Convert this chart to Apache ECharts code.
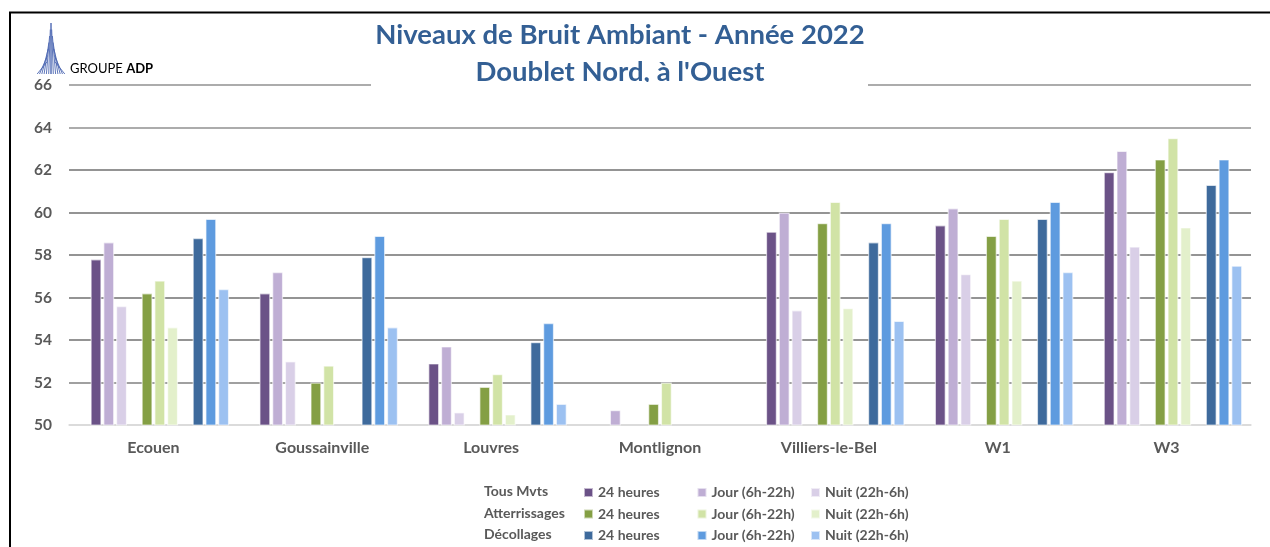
<!DOCTYPE html>
<html>
    <head>
        <meta charset="utf-8">
        <title>Niveaux de Bruit Ambiant</title>
        <script src="https://cdn.jsdelivr.net/npm/echarts@6/dist/echarts.min.js"></script>
        <style>
            html, body { margin: 0; padding: 0; background: #fff; }
        </style>
    </head>
    <body>
        <div id="main" style="width:1270px;height:547px;"></div>

        <script type="text/javascript">
            // donnees
            var sites = ['Ecouen', 'Goussainville', 'Louvres', 'Montlignon', 'Villiers-le-Bel', 'W1', 'W3'];
            var yTicks = [50, 52, 54, 56, 58, 60, 62, 64, 66];

            var tousJour24 = [57.8, 56.2, 52.9, '-', 59.1, 59.4, 61.9];
            var tousJour = [58.6, 57.2, 53.7, 50.7, 60.0, 60.2, 62.9];
            var tousNuit = [55.6, 53.0, 50.6, '-', 55.4, 57.1, 58.4];

            var attJour24 = [56.2, 52.0, 51.8, 51.0, 59.5, 58.9, 62.5];
            var attJour = [56.8, 52.8, 52.4, 52.0, 60.5, 59.7, 63.5];
            var attNuit = [54.6, '-', 50.5, '-', 55.5, 56.8, 59.3];

            var decJour24 = [58.8, 57.9, 53.9, '-', 58.6, 59.7, 61.3];
            var decJour = [59.7, 58.9, 54.8, '-', 59.5, 60.5, 62.5];
            var decNuit = [56.4, 54.6, 51.0, '-', 54.9, 57.2, 57.5];

            var groupes = ['Tous Mvts', 'Atterrissages', 'Décollages'];
            var periodes = ['24 heures', 'Jour (6h-22h)', 'Nuit (22h-6h)'];

            var couleurs = [
                ['#6b5287', '#bfaed4', '#d9cfe7'],
                ['#849f44', '#d1e3a6', '#e3f0cb'],
                ['#3e6a9c', '#5e9bdf', '#9cc1f1']
            ];
            var valeurs = [
                [tousJour24, tousJour, tousNuit],
                [attJour24, attJour, attNuit],
                [decJour24, decJour, decNuit]
            ];

            var police = 'Lato, "Open Sans", sans-serif';
            var gris = '#595959';

            // series : une case vide avant chaque groupe (comme dans Excel)
            var series = [];
            var vide = sites.map(function () { return '-'; });
            for (var g = 0; g < 3; g++) {
                series.push({
                    name: 'vide' + g,
                    type: 'bar',
                    barWidth: 11,
                    barGap: '16%',
                    data: vide
                });
                for (var p = 0; p < 3; p++) {
                    series.push({
                        name: groupes[g] + '|' + periodes[p],
                        type: 'bar',
                        barWidth: 11,
                        barGap: '16%',
                        itemStyle: {
                            color: couleurs[g][p],
                            borderColor: 'rgba(255,255,255,0.6)',
                            borderWidth: 1.2
                        },
                        data: valeurs[g][p]
                    });
                }
            }

            // une legende par entree, placee en tableau
            var legendes = [];
            for (var g2 = 0; g2 < 3; g2++) {
                for (var p2 = 0; p2 < 3; p2++) {
                    legendes.push({
                        left: 583 + p2 * 113.5,
                        top: 485.5 + g2 * 21.5,
                        icon: 'rect',
                        itemWidth: 9,
                        itemHeight: 9,
                        padding: 0,
                        selectedMode: false,
                        formatter: function (name) { return name.split('|')[1]; },
                        textStyle: {
                            fontFamily: police,
                            fontWeight: 'bold',
                            fontSize: 14,
                            color: gris
                        },
                        data: [groupes[g2] + '|' + periodes[p2]]
                    });
                }
            }

            // logo ADP (eventail de traits)
            var logo = [];
            for (var k = 0; k <= 6; k++) {
                var haut = 23 + k * 6.5;
                logo.push({
                    type: 'line',
                    shape: { x1: 51 - k * 0.7, y1: haut, x2: 51 - k * 2.3, y2: 74 },
                    style: { stroke: '#4d68b2', lineWidth: 0.9 }
                });
                logo.push({
                    type: 'line',
                    shape: { x1: 51 + k * 0.7, y1: haut, x2: 51 + k * 2.3, y2: 74 },
                    style: { stroke: '#4d68b2', lineWidth: 0.9 }
                });
            }

            var elements = [
                {
                    type: 'polyline',
                    shape: { points: [[10, 560], [10, 12.5], [1280, 12.5]] },
                    style: { stroke: '#000', lineWidth: 2, fill: null }
                },
                {
                    type: 'rect',
                    z: 100,
                    shape: { x: 371, y: 82, width: 497, height: 6 },
                    style: { fill: '#fff' }
                },
                {
                    type: 'text',
                    x: 70,
                    y: 69,
                    style: {
                        text: '{a|GROUPE }{b|ADP}',
                        verticalAlign: 'middle',
                        rich: {
                            a: { fontFamily: police, fontSize: 13, color: '#3a53a0' },
                            b: { fontFamily: police, fontSize: 13, fontWeight: 'bold', color: '#2f448f' }
                        }
                    }
                }
            ].concat(logo);

            for (var g3 = 0; g3 < 3; g3++) {
                elements.push({
                    type: 'text',
                    x: 484,
                    y: 491.5 + g3 * 21.5,
                    style: {
                        text: groupes[g3],
                        fontFamily: police,
                        fontWeight: 'bold',
                        fontSize: 14,
                        fill: gris,
                        verticalAlign: 'middle'
                    }
                });
            }

            var myChart = echarts.init(document.getElementById('main'));
            myChart.setOption({
                animation: false,
                title: {
                    text: 'Niveaux de Bruit Ambiant - Année 2022\nDoublet Nord, à l\'Ouest',
                    left: 620,
                    top: 17,
                    textAlign: 'center',
                    padding: 0,
                    textStyle: {
                        fontFamily: police,
                        fontWeight: 'bold',
                        fontSize: 27.5,
                        lineHeight: 37,
                        color: '#335f94'
                    }
                },
                legend: legendes,
                grid: {
                    left: 69,
                    right: 19,
                    top: 85,
                    bottom: 122
                },
                xAxis: {
                    type: 'category',
                    data: sites,
                    axisTick: { show: false },
                    axisLine: { lineStyle: { color: '#d9d9d9', width: 1.5 } },
                    axisLabel: {
                        margin: 15,
                        fontFamily: police,
                        fontWeight: 'bold',
                        fontSize: 16,
                        color: gris
                    }
                },
                yAxis: {
                    type: 'value',
                    min: yTicks[0],
                    max: yTicks[yTicks.length - 1],
                    interval: 2,
                    axisLine: { show: false },
                    axisTick: { show: false },
                    axisLabel: {
                        margin: 17,
                        fontFamily: police,
                        fontWeight: 'bold',
                        fontSize: 15.5,
                        color: gris
                    },
                    splitLine: {
                        lineStyle: {
                            color: ['#d9d9d9', '#808080', '#707070', '#707070', '#707070', '#707070', '#707070', '#909090', '#909090'],
                            width: 1.5
                        }
                    }
                },
                graphic: { elements: elements },
                series: series
            });
        </script>
    </body>
</html>
